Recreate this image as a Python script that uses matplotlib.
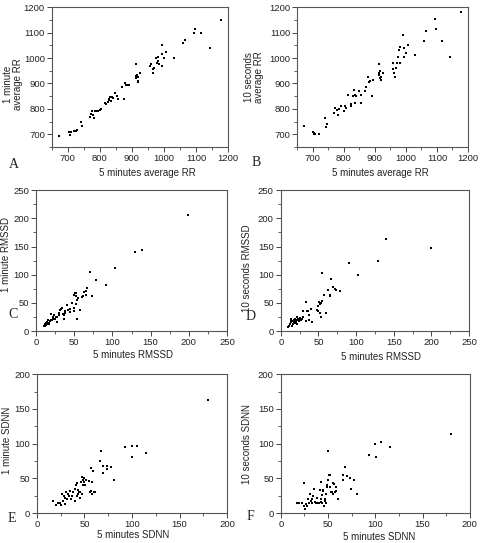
import numpy as np
import matplotlib
matplotlib.use("Agg")
import matplotlib.pyplot as plt
from matplotlib.ticker import MultipleLocator

plt.rcParams["font.family"] = ["Liberation Sans", "DejaVu Sans"]

#data
#A: 5 min vs 1 min average RR
a_x = [672, 703, 710, 707, 720, 725, 728, 741, 745, 770, 772, 775, 780, 783, 786, 790, 795, 800, 803,
       815, 820, 825, 828, 830, 833, 835, 838, 840, 848, 852, 857, 870, 874, 877, 880, 885, 890,
       912, 912, 914, 917, 918, 920, 920, 925, 957, 960, 965, 967, 970, 974, 977, 980, 982, 985,
       993, 993, 995, 1000, 1005, 1030, 1058, 1065, 1095, 1098, 1115, 1143, 1178]
a_y = [693, 710, 710, 697, 712, 712, 716, 750, 735, 770, 780, 790, 778, 765, 790, 790, 793, 797, 800,
       822, 818, 828, 835, 840, 845, 830, 848, 843, 862, 850, 840, 888, 840, 900, 893, 893, 895,
       975, 920, 930, 935, 925, 905, 910, 940, 970, 975, 955, 940, 960, 1000, 980, 1005, 990, 975,
       1050, 1015, 968, 1000, 1025, 1000, 1058, 1070, 1100, 1115, 1100, 1038, 1148]

#B: 5 min vs 10 s average RR
b_x = [673, 700, 703, 705, 708, 722, 740, 742, 745, 770, 772, 778, 783, 785, 792, 800, 805, 807,
       815, 822, 825, 830, 833, 835, 837, 840, 848, 855, 857, 870, 873, 877, 880, 885, 890, 895,
       912, 913, 915, 918, 918, 920, 920, 925, 958, 960, 963, 965, 968, 972, 975, 978, 980, 982,
       990, 993, 995, 1000, 1008, 1028, 1058, 1065, 1095, 1098, 1115, 1143, 1178]
b_y = [733, 708, 705, 702, 700, 700, 765, 730, 742, 785, 805, 795, 775, 798, 810, 790, 810, 803,
       855, 810, 820, 850, 875, 825, 855, 850, 870, 855, 822, 870, 885, 925, 905, 910, 850, 912,
       940, 975, 935, 950, 920, 912, 925, 942, 980, 955, 940, 925, 960, 980, 1005, 1030, 1045, 980,
       1090, 1040, 1005, 1020, 1050, 1010, 1065, 1105, 1155, 1115, 1065, 1005, 1180]

#C: 5 min vs 1 min RMSSD
c_x = [199, 130, 139, 103, 91, 78, 71, 73, 67, 66, 63, 65, 62, 60, 58, 55, 53, 52, 51, 50, 52, 52,
       50, 53, 50, 47, 45, 42, 40, 38, 37, 36, 33, 32, 34, 30, 30, 28, 26, 27, 25, 24, 22, 20, 22,
       21, 18, 17, 16, 15, 14, 13, 12, 11, 13, 15, 17, 19, 12, 14, 16, 35, 38, 44]
c_y = [205, 140, 143, 112, 82, 90, 104, 62, 76, 72, 70, 65, 63, 60, 38, 58, 55, 67, 67, 65, 62, 48,
       42, 22, 35, 50, 40, 38, 47, 35, 28, 22, 40, 38, 42, 32, 28, 26, 25, 17, 22, 28, 26, 30, 22,
       20, 18, 15, 20, 14, 12, 15, 10, 9, 11, 16, 12, 20, 12, 17, 13, 30, 32, 34]

#D: 5 min vs 10 s RMSSD
d_x = [199, 140, 129, 103, 91, 78, 73, 72, 69, 67, 65, 65, 63, 60, 58, 55, 55, 54, 53, 52, 51, 50,
       50, 52, 49, 48, 40, 38, 41, 37, 36, 35, 33, 34, 30, 30, 28, 27, 26, 25, 24, 23, 22, 21, 20,
       19, 18, 17, 16, 15, 14, 13, 12, 11, 10, 13, 15, 17, 20, 22]
d_y = [147, 164, 125, 100, 120, 71, 73, 75, 79, 92, 65, 62, 73, 33, 64, 103, 53, 50, 25, 49, 52, 44,
       35, 32, 45, 38, 40, 20, 16, 28, 35, 35, 52, 18, 35, 25, 22, 20, 22, 24, 18, 21, 25, 20, 18,
       22, 15, 20, 12, 18, 22, 17, 13, 10, 8, 20, 10, 18, 14, 12]

#E: 5 min vs 1 min SDNN
e_x = [180, 115, 105, 100, 100, 93, 81, 78, 74, 74, 70, 69, 67, 66, 61, 59, 58, 57, 58, 57, 56, 55,
       52, 51, 50, 49, 48, 47, 47, 45, 44, 43, 42, 41, 40, 40, 42, 38, 37, 36, 35, 34, 33, 32, 31,
       30, 29, 28, 27, 26, 25, 24, 22, 20, 17, 46, 48, 45, 43, 60]
e_y = [163, 87, 97, 96, 81, 95, 47, 66, 63, 68, 58, 68, 90, 75, 30, 60, 45, 65, 27, 32, 31, 46,
       48, 41, 50, 45, 40, 52, 27, 22, 31, 33, 44, 40, 35, 18, 25, 30, 24, 20, 32, 25, 28, 20, 30,
       22, 13, 24, 18, 27, 12, 15, 14, 12, 18, 45, 48, 30, 28, 31]

#F: 5 min vs 10 s SDNN
f_x = [180, 115, 106, 100, 101, 93, 81, 77, 74, 73, 70, 68, 66, 66, 61, 58, 58, 57, 56, 55, 55, 54,
       51, 52, 50, 50, 49, 49, 48, 47, 46, 45, 44, 43, 42, 42, 41, 40, 38, 37, 36, 35, 34, 33, 32,
       31, 30, 29, 28, 27, 26, 25, 25, 22, 19, 17, 45, 47, 44, 39, 33, 48, 52, 53]
f_y = [114, 95, 103, 100, 81, 84, 28, 48, 35, 50, 53, 66, 55, 47, 20, 37, 32, 30, 42, 44, 28, 30,
       55, 55, 90, 47, 40, 37, 28, 20, 10, 34, 26, 45, 20, 16, 33, 15, 22, 15, 16, 35, 25, 20, 18,
       28, 15, 20, 10, 13, 6, 43, 10, 15, 15, 15, 32, 18, 14, 14, 14, 15, 37, 31]

#panel settings: data, axes rect, limits, labels
panels = [
    (a_x, a_y, [0.108, 0.729, 0.367, 0.258], (650, 1200), 100, 50,
     "5 minutes average RR", "1 minute\naverage RR", "A", (0.54, -0.185), (-0.22, 0.45), (9, 165)),
    (b_x, b_y, [0.619, 0.729, 0.356, 0.258], (650, 1200), 100, 50,
     "5 minutes average RR", "10 seconds\naverage RR", "B", (0.49, -0.185), (-0.25, 0.5), (252, 163)),
    (c_x, c_y, [0.075, 0.390, 0.398, 0.260], (0, 250), 50, 25,
     "5 minutes RMSSD", "1 minute RMSSD", "C", (0.51, -0.17), (-0.157, 0.54), (8, 314)),
    (d_x, d_y, [0.585, 0.390, 0.392, 0.260], (0, 250), 50, 25,
     "5 minutes RMSSD", "10 seconds RMSSD", "D", (0.53, -0.18), (-0.18, 0.45), (246, 316)),
    (e_x, e_y, [0.077, 0.055, 0.396, 0.256], (0, 200), 50, 25,
     "5 minutes SDNN", "1 minute SDNN", "E", (0.505, -0.16), (-0.158, 0.525), (8, 519)),
    (f_x, f_y, [0.585, 0.055, 0.394, 0.256], (0, 200), 50, 25,
     "5 minutes SDNN", "10 seconds SDNN", "F", (0.52, -0.17), (-0.18, 0.5), (247, 517)),
]

fig = plt.figure(figsize=(4.8, 5.43), dpi=100)

for x, y, rect, lim, major, minor, xl, yl, letter, xlc, ylc, lpos in panels:
    ax = fig.add_axes(rect)
    ax.plot(x, y, "s", color="black", markersize=1.8, markeredgewidth=0)
    ax.set_xlim(lim)
    ax.set_ylim(lim)
    ax.xaxis.set_major_locator(MultipleLocator(major))
    ax.yaxis.set_major_locator(MultipleLocator(major))
    ax.xaxis.set_minor_locator(MultipleLocator(minor))
    ax.yaxis.set_minor_locator(MultipleLocator(minor))
    ax.tick_params(which="major", direction="out", length=3.5, width=0.7,
                   labelsize=6.8, colors="#444444", labelcolor="#222222", pad=1.5)
    ax.tick_params(which="minor", direction="out", length=2, width=0.6, colors="#444444")
    for s in ax.spines.values():
        s.set_color("#555555")
        s.set_linewidth(0.8)
    ax.set_xlabel(xl, fontsize=7, color="#222222", va="center")
    ax.set_ylabel(yl, fontsize=7, color="#222222", va="center", linespacing=1.0)
    ax.xaxis.set_label_coords(*xlc)
    ax.yaxis.set_label_coords(*ylc)
    # panel letter
    fig.text(lpos[0] / 480, 1 - lpos[1] / 543, letter, fontsize=10,
             family="Liberation Serif", ha="left", va="center", color="#222222")

fig.savefig("out.png", dpi=100)
